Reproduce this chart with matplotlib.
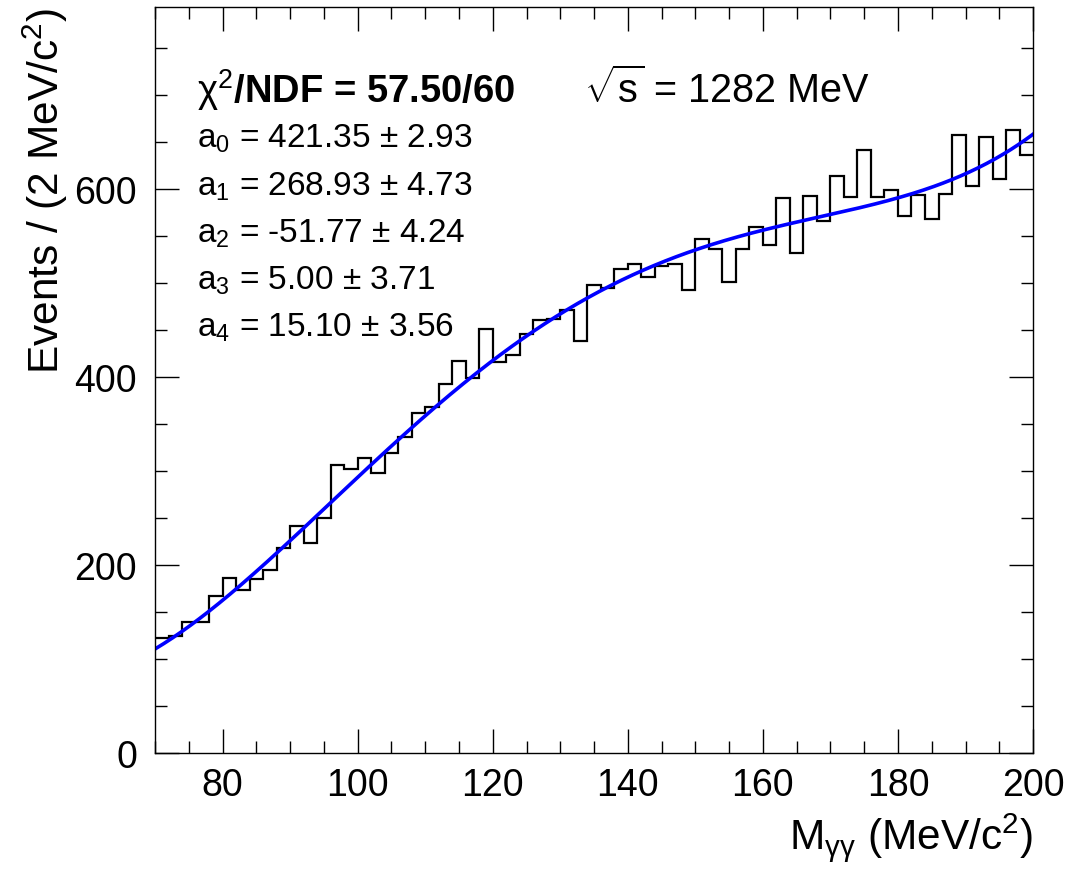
import numpy as np
import matplotlib
matplotlib.use('Agg')
from matplotlib import pyplot as plt
from matplotlib.ticker import MultipleLocator
from numpy.polynomial import chebyshev

plt.rcParams['font.family'] = ['Liberation Sans', 'DejaVu Sans']
plt.rcParams['mathtext.fontset'] = 'custom'
plt.rcParams['mathtext.rm'] = 'Liberation Sans'
plt.rcParams['mathtext.it'] = 'Liberation Sans:italic'
plt.rcParams['mathtext.bf'] = 'Liberation Sans:bold'

# histogram: M_gamma_gamma, 2 MeV bins from 70 to 200
x_lo, x_hi, n_bins = 70, 200, 65
counts = [122, 125, 139, 139, 167, 186, 174, 185, 195, 218,
          242, 224, 250, 307, 302, 314, 298, 319, 336, 362,
          368, 393, 417, 399, 451, 416, 424, 446, 461, 462,
          471, 438, 498, 495, 515, 520, 507, 518, 520, 493,
          547, 536, 501, 536, 560, 541, 591, 532, 593, 566,
          614, 592, 642, 592, 599, 572, 594, 568, 595, 658,
          604, 656, 611, 663, 636]

# chebyshev fit parameters
params = [421.35, 268.93, -51.77, 5.00, 15.10]
errors = [2.93, 4.73, 4.24, 3.71, 3.56]
chi2, ndf = 57.50, 60
sqrt_s = 1282

edges = np.linspace(x_lo, x_hi, n_bins + 1)
xf = np.linspace(x_lo, x_hi, 400)
u = (xf - 0.5 * (x_lo + x_hi)) / (0.5 * (x_hi - x_lo))
yf = chebyshev.chebval(u, params)

fig = plt.figure(figsize=(10.76, 8.78), dpi=100)
ax = fig.add_axes([0.1441, 0.1412, 0.8160, 0.8497])

ax.stairs(counts, edges, baseline=None, color='black', lw=1.6)
ax.plot(xf, yf, color='#0000ff', lw=2.6)

ax.set_xlim(x_lo, x_hi)
ax.set_ylim(0, 794)

ax.xaxis.set_major_locator(MultipleLocator(20))
ax.xaxis.set_minor_locator(MultipleLocator(5))
ax.yaxis.set_major_locator(MultipleLocator(200))
ax.yaxis.set_minor_locator(MultipleLocator(50))
ax.tick_params(which='both', direction='in', top=True, right=True, width=1.0)
ax.tick_params(which='major', length=17, labelsize=27)
ax.tick_params(axis='y', which='major', pad=13)
ax.tick_params(axis='x', which='major', pad=10)
ax.tick_params(which='minor', length=8.5)
for s in ax.spines.values():
    s.set_linewidth(1.0)

ax.set_ylabel(r'Events / (2 MeV/c$^{2}$)', fontsize=30.5, loc='top', labelpad=3)
ax.set_xlabel(r'M$_{\mathrm{\gamma\gamma}}$ (MeV/c$^{2}$)', fontsize=30.5, loc='right', labelpad=5)

ax.text(0.0478, 0.8727, r'$\mathrm{\chi}^{2}$/NDF = %.2f/%d' % (chi2, ndf),
        transform=ax.transAxes, fontsize=27.5, fontweight='bold', va='baseline')
ax.text(0.489, 0.8727, r'$\sqrt{\mathrm{s}}$ = %d MeV' % sqrt_s,
        transform=ax.transAxes, fontsize=28.5, va='baseline')
for i, (p, e) in enumerate(zip(params, errors)):
    ax.text(0.0478, 0.8123 - 0.0632 * i, r'a$_{%d}$ = %.2f ± %.2f' % (i, p, e),
            transform=ax.transAxes, fontsize=24, va='baseline')

fig.savefig('out.png', dpi=100)
